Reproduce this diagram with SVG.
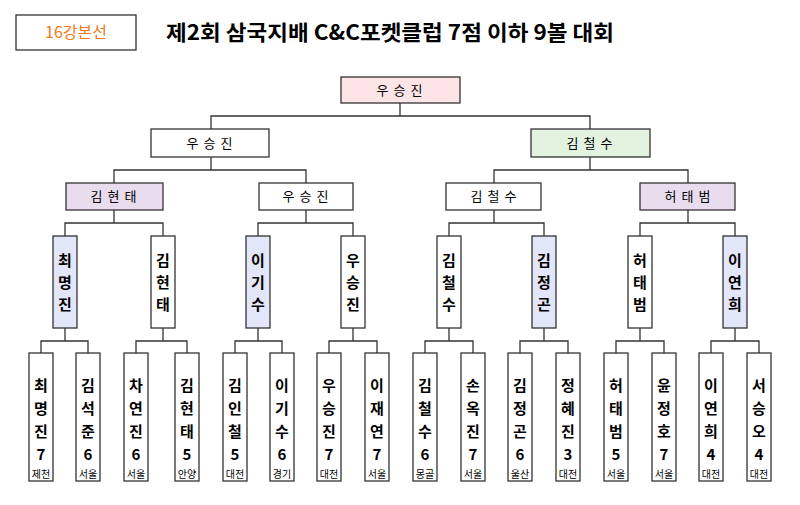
<svg xmlns="http://www.w3.org/2000/svg" width="800" height="505" viewBox="0 0 800 505">
<style>
rect{stroke:#333;stroke-width:1.3;fill:#fff}
.c{fill:none;stroke:#333;stroke-width:1.3}
text{font-family:"Noto Sans CJK KR","Noto Sans",sans-serif;fill:#000;text-anchor:middle}
.h{font-size:13px;letter-spacing:5px}
.v{font-size:15px;font-weight:bold}
.s{font-size:10px}
.pk{fill:#fde4e6}.gr{fill:#e3f3df}.pu{fill:#e8dcee}.bl{fill:#e3e6f8}
</style>
<rect width="800" height="505" style="fill:#fff;stroke:none"/>
<g id="label"><rect x="16" y="15" width="120" height="35"/><text x="76" y="38" style="font-size:16px;fill:#f07818">16강본선</text></g>
<text id="title" x="390" y="40" style="font-size:21px;font-weight:bold" textLength="448" lengthAdjust="spacingAndGlyphs">제2회 삼국지배 C&amp;C포켓클럽 7점 이하 9볼 대회</text>
<g id="connectors">
<path class="c" d="M400 103V116M211 129V116H590V129"/>
<path class="c" d="M211 157V170M114 183V170H306V183M590 157V170M494 183V170H688V183"/>
<path class="c" d="M114 210V223M65 236V223H163V236M306 210V223M258 236V223H353V236M494 210V223M449 236V223H544V236M688 210V223M640 236V223H735V236"/>
<path class="c" d="M65 328V341M41 353V341H88V353M163 328V341M136 353V341H187V353M258 328V341M235 353V341H282V353M353 328V341M329 353V341H377V353M449 328V341M425 353V341H473V353M544 328V341M520 353V341H568V353M640 328V341M616 353V341H664V353M735 328V341M711 353V341H759V353"/>
</g>
<g id="n1"><rect class="pk" x="341" y="77" width="119" height="26"/><text class="h" x="402" y="95">우승진</text></g>
<g id="n2a"><rect x="151" y="129" width="118" height="28"/><text class="h" x="212" y="148">우승진</text></g>
<g id="n2b"><rect class="gr" x="531" y="129" width="119" height="28"/><text class="h" x="592" y="148">김철수</text></g>
<g id="n3a"><rect class="pu" x="66" y="183" width="97" height="27"/><text class="h" x="116" y="201">김현태</text></g>
<g id="n3b"><rect x="259" y="183" width="94" height="27"/><text class="h" x="308" y="201">우승진</text></g>
<g id="n3c"><rect x="446" y="183" width="95" height="27"/><text class="h" x="496" y="201">김철수</text></g>
<g id="n3d"><rect class="pu" x="640" y="183" width="95" height="27"/><text class="h" x="690" y="201">허태범</text></g>
<g id="n4a"><rect class="bl" x="53" y="236" width="24" height="92"/><text class="v" x="65"><tspan x="65" y="266">최</tspan><tspan x="65" y="288">명</tspan><tspan x="65" y="310">진</tspan></text></g>
<g id="n4b"><rect x="151" y="236" width="24" height="92"/><text class="v" x="163"><tspan x="163" y="266">김</tspan><tspan x="163" y="288">현</tspan><tspan x="163" y="310">태</tspan></text></g>
<g id="n4c"><rect class="bl" x="246" y="236" width="24" height="92"/><text class="v" x="258"><tspan x="258" y="266">이</tspan><tspan x="258" y="288">기</tspan><tspan x="258" y="310">수</tspan></text></g>
<g id="n4d"><rect x="341" y="236" width="24" height="92"/><text class="v" x="353"><tspan x="353" y="266">우</tspan><tspan x="353" y="288">승</tspan><tspan x="353" y="310">진</tspan></text></g>
<g id="n4e"><rect x="437" y="236" width="24" height="92"/><text class="v" x="449"><tspan x="449" y="266">김</tspan><tspan x="449" y="288">철</tspan><tspan x="449" y="310">수</tspan></text></g>
<g id="n4f"><rect class="bl" x="532" y="236" width="24" height="92"/><text class="v" x="544"><tspan x="544" y="266">김</tspan><tspan x="544" y="288">정</tspan><tspan x="544" y="310">곤</tspan></text></g>
<g id="n4g"><rect x="628" y="236" width="24" height="92"/><text class="v" x="640"><tspan x="640" y="266">허</tspan><tspan x="640" y="288">태</tspan><tspan x="640" y="310">범</tspan></text></g>
<g id="n4h"><rect class="bl" x="723" y="236" width="24" height="92"/><text class="v" x="735"><tspan x="735" y="266">이</tspan><tspan x="735" y="288">연</tspan><tspan x="735" y="310">희</tspan></text></g>
<g id="p1"><rect x="29" y="353" width="24" height="128"/><text class="v"><tspan x="41" y="391">최</tspan><tspan x="41" y="414">명</tspan><tspan x="41" y="437">진</tspan><tspan x="41" y="460">7</tspan></text><text class="s" x="41" y="478">제천</text></g>
<g id="p2"><rect x="76" y="353" width="24" height="128"/><text class="v"><tspan x="88" y="391">김</tspan><tspan x="88" y="414">석</tspan><tspan x="88" y="437">준</tspan><tspan x="88" y="460">6</tspan></text><text class="s" x="88" y="478">서울</text></g>
<g id="p3"><rect x="124" y="353" width="24" height="128"/><text class="v"><tspan x="136" y="391">차</tspan><tspan x="136" y="414">연</tspan><tspan x="136" y="437">진</tspan><tspan x="136" y="460">6</tspan></text><text class="s" x="136" y="478">서울</text></g>
<g id="p4"><rect x="175" y="353" width="24" height="128"/><text class="v"><tspan x="187" y="391">김</tspan><tspan x="187" y="414">현</tspan><tspan x="187" y="437">태</tspan><tspan x="187" y="460">5</tspan></text><text class="s" x="187" y="478">안양</text></g>
<g id="p5"><rect x="223" y="353" width="24" height="128"/><text class="v"><tspan x="235" y="391">김</tspan><tspan x="235" y="414">인</tspan><tspan x="235" y="437">철</tspan><tspan x="235" y="460">5</tspan></text><text class="s" x="235" y="478">대전</text></g>
<g id="p6"><rect x="270" y="353" width="24" height="128"/><text class="v"><tspan x="282" y="391">이</tspan><tspan x="282" y="414">기</tspan><tspan x="282" y="437">수</tspan><tspan x="282" y="460">6</tspan></text><text class="s" x="282" y="478">경기</text></g>
<g id="p7"><rect x="317" y="353" width="24" height="128"/><text class="v"><tspan x="329" y="391">우</tspan><tspan x="329" y="414">승</tspan><tspan x="329" y="437">진</tspan><tspan x="329" y="460">7</tspan></text><text class="s" x="329" y="478">대전</text></g>
<g id="p8"><rect x="365" y="353" width="24" height="128"/><text class="v"><tspan x="377" y="391">이</tspan><tspan x="377" y="414">재</tspan><tspan x="377" y="437">연</tspan><tspan x="377" y="460">7</tspan></text><text class="s" x="377" y="478">서울</text></g>
<g id="p9"><rect x="413" y="353" width="24" height="128"/><text class="v"><tspan x="425" y="391">김</tspan><tspan x="425" y="414">철</tspan><tspan x="425" y="437">수</tspan><tspan x="425" y="460">6</tspan></text><text class="s" x="425" y="478">몽골</text></g>
<g id="p10"><rect x="461" y="353" width="24" height="128"/><text class="v"><tspan x="473" y="391">손</tspan><tspan x="473" y="414">옥</tspan><tspan x="473" y="437">진</tspan><tspan x="473" y="460">7</tspan></text><text class="s" x="473" y="478">서울</text></g>
<g id="p11"><rect x="508" y="353" width="24" height="128"/><text class="v"><tspan x="520" y="391">김</tspan><tspan x="520" y="414">정</tspan><tspan x="520" y="437">곤</tspan><tspan x="520" y="460">6</tspan></text><text class="s" x="520" y="478">울산</text></g>
<g id="p12"><rect x="556" y="353" width="24" height="128"/><text class="v"><tspan x="568" y="391">정</tspan><tspan x="568" y="414">혜</tspan><tspan x="568" y="437">진</tspan><tspan x="568" y="460">3</tspan></text><text class="s" x="568" y="478">대전</text></g>
<g id="p13"><rect x="604" y="353" width="24" height="128"/><text class="v"><tspan x="616" y="391">허</tspan><tspan x="616" y="414">태</tspan><tspan x="616" y="437">범</tspan><tspan x="616" y="460">5</tspan></text><text class="s" x="616" y="478">서울</text></g>
<g id="p14"><rect x="652" y="353" width="24" height="128"/><text class="v"><tspan x="664" y="391">윤</tspan><tspan x="664" y="414">정</tspan><tspan x="664" y="437">호</tspan><tspan x="664" y="460">7</tspan></text><text class="s" x="664" y="478">서울</text></g>
<g id="p15"><rect x="699" y="353" width="24" height="128"/><text class="v"><tspan x="711" y="391">이</tspan><tspan x="711" y="414">연</tspan><tspan x="711" y="437">희</tspan><tspan x="711" y="460">4</tspan></text><text class="s" x="711" y="478">대전</text></g>
<g id="p16"><rect x="747" y="353" width="24" height="128"/><text class="v"><tspan x="759" y="391">서</tspan><tspan x="759" y="414">승</tspan><tspan x="759" y="437">오</tspan><tspan x="759" y="460">4</tspan></text><text class="s" x="759" y="478">대전</text></g>
</svg>
